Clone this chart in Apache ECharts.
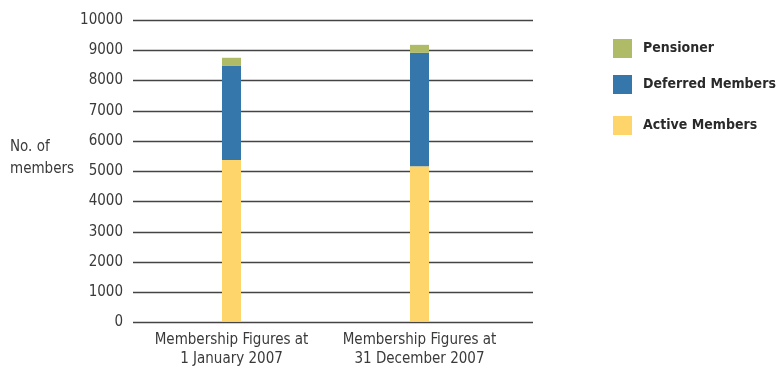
<!DOCTYPE html>
<html>
<head>
<meta charset="utf-8">
<script src="https://cdn.jsdelivr.net/npm/echarts@6/dist/echarts.min.js"></script>
<style>
  html, body { margin: 0; padding: 0; background: #fff; }
  #chart { width: 778px; height: 369px; }
</style>
</head>
<body>
<div id="chart"></div>
<script>
// Scheme membership counts at the start and end of 2007
const categories = ['Membership Figures at\n1 January 2007', 'Membership Figures at\n31 December 2007'];
const activeMembers = [5350, 5140];
const deferredMembers = [3140, 3770];
const pensioners = [255, 265];
const yTicks = { min: 0, max: 10000, interval: 1000 };

const colors = { active: '#fed56b', deferred: '#3677ab', pensioner: '#b0bb68' };
const textColor = '#3a3a3a';
const font = 'DejaVu Sans Condensed, DejaVu Sans, sans-serif';

const chart = echarts.init(document.getElementById('chart'), null, { renderer: 'canvas' });

const legendStyle = (top, name) => ({
  left: 613,
  top: top,
  padding: 0,
  orient: 'vertical',
  itemWidth: 19,
  itemHeight: 19,
  itemGap: 0,
  icon: 'rect',
  selectedMode: false,
  data: [name],
  textStyle: { fontFamily: font, fontWeight: 'bold', fontSize: 14, color: '#2a2a2a', padding: [0, 0, 0, 6] }
});

chart.setOption({
  animation: false,
  legend: [
    legendStyle(39, 'Pensioner'),
    legendStyle(75, 'Deferred Members'),
    legendStyle(116, 'Active Members')
  ],
  grid: [
    // frame carrying the value scale and horizontal rules
    { left: 133, right: 245, top: 20, bottom: 46.5 },
    // frame carrying the bars
    { left: 137.5, right: 264.5, top: 20, bottom: 46.5 }
  ],
  xAxis: [
    { gridIndex: 0, type: 'value', show: false, min: 0, max: 1 },
    {
      gridIndex: 1,
      type: 'category',
      data: categories,
      axisLine: { show: false },
      axisTick: { show: false },
      axisLabel: { interval: 0, fontFamily: font, fontSize: 15, color: textColor, lineHeight: 19, margin: 10 }
    }
  ],
  yAxis: [
    {
      gridIndex: 0,
      type: 'value',
      min: yTicks.min, max: yTicks.max, interval: yTicks.interval,
      axisLine: { show: false },
      axisTick: { show: false },
      axisLabel: { fontFamily: font, fontSize: 15, color: textColor, margin: 10, formatter: v => String(v) },
      splitLine: { lineStyle: { color: '#444', width: 1.3 } }
    },
    {
      gridIndex: 1,
      type: 'value',
      min: yTicks.min, max: yTicks.max, interval: yTicks.interval,
      show: false
    }
  ],
  graphic: [
    {
      type: 'text',
      left: 10,
      top: 136,
      style: { text: 'No. of\nmembers', font: '15px ' + font, fill: textColor, lineHeight: 22 }
    }
  ],
  series: [
    { name: 'Active Members', type: 'bar', stack: 'm', xAxisIndex: 1, yAxisIndex: 1, barWidth: 19, data: activeMembers, itemStyle: { color: colors.active } },
    { name: 'Deferred Members', type: 'bar', stack: 'm', xAxisIndex: 1, yAxisIndex: 1, barWidth: 19, data: deferredMembers, itemStyle: { color: colors.deferred } },
    { name: 'Pensioner', type: 'bar', stack: 'm', xAxisIndex: 1, yAxisIndex: 1, barWidth: 19, data: pensioners, itemStyle: { color: colors.pensioner } }
  ]
});
</script>
</body>
</html>
